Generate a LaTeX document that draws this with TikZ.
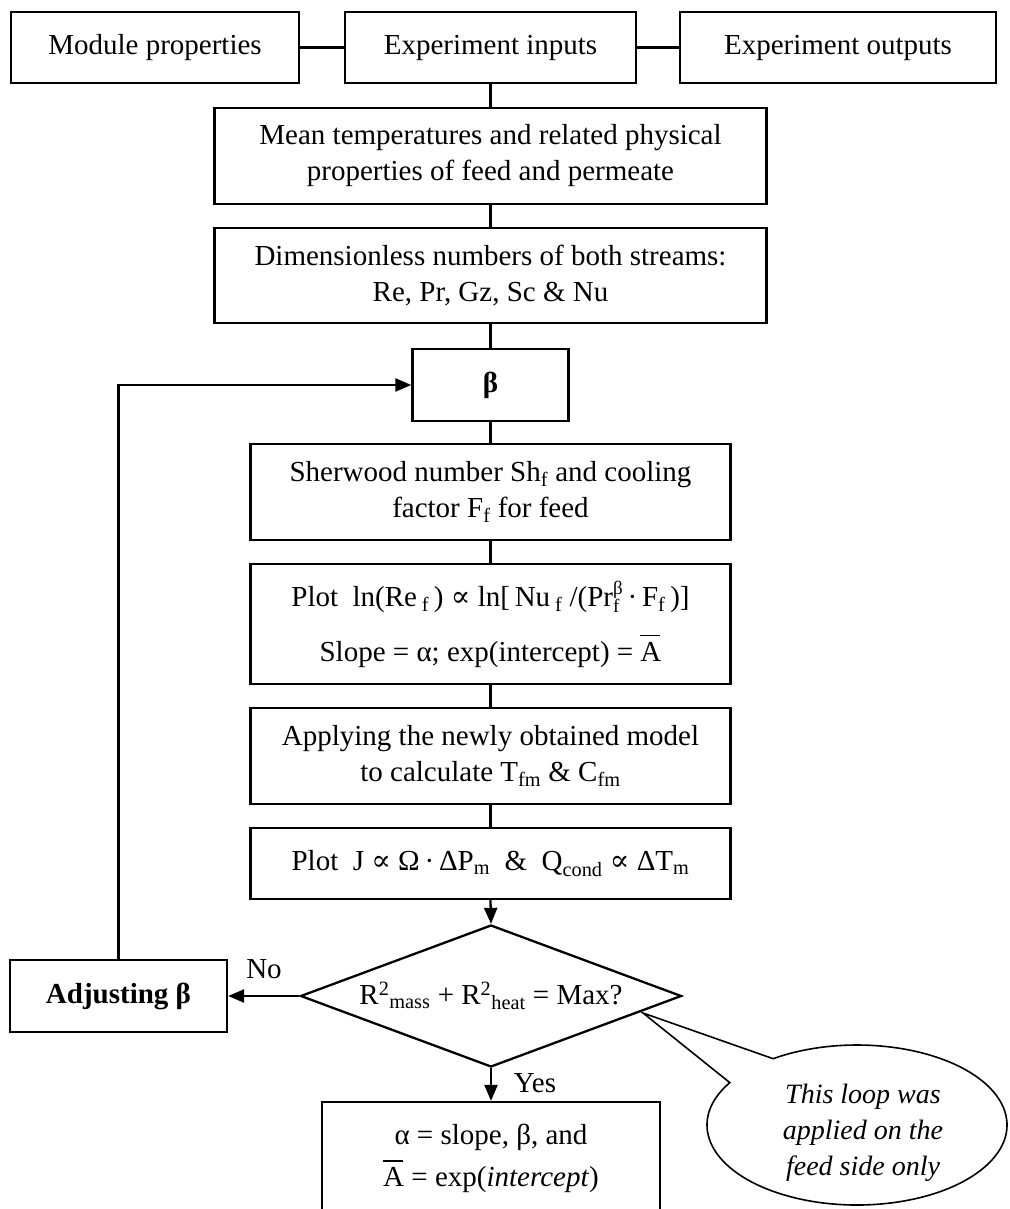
\documentclass[tikz,border=0pt]{standalone}
\usepackage{fontspec}
\setmainfont{Liberation Serif}
\newfontfamily\djv{DejaVu Serif}
\usetikzlibrary{shapes.geometric,arrows.meta,calc}
\newcommand{\propsym}{{\djv ∝}}
\newcommand{\abarsym}{\makebox[0pt][l]{\raisebox{25pt}{\rule{20pt}{1.4pt}}}A}
\newcommand{\smallidx}[1]{{\fontsize{19}{19}\selectfont #1}}
\newcommand{\stacksb}[2]{\makebox[0pt][l]{\raisebox{-6pt}{\smallidx{#2}}}\raisebox{12pt}{\smallidx{#1}}}
\begin{document}
\begin{tikzpicture}[x=1pt,y=-1pt,
  every node/.style={font=\fontsize{29}{36}\selectfont},
  box/.style={draw, line width=2.3pt, align=center, inner sep=0pt},
  conn/.style={line width=2.3pt},
  arr/.style={line width=2.3pt, -{Triangle[length=16pt,width=13pt]}},
  thinline/.style={line width=1.6pt}]
\useasboundingbox (0,0) rectangle (1009,1209);
\clip (0,0) rectangle (1009,1209);
\fill[white] (0,0) rectangle (1009,1209);

% top row
\node[box, minimum width=288pt, minimum height=71pt] (mod) at (155,47.5) {\raisebox{4pt}{Module properties}};
\node[box, minimum width=291pt, minimum height=71pt] (inp) at (490.5,47.5) {\raisebox{4pt}{Experiment inputs}};
\node[box, minimum width=316pt, minimum height=71pt] (out) at (838,47.5) {\raisebox{4pt}{Experiment outputs}};

% main column
\node[box, minimum width=552pt, minimum height=96pt] (mean) at (490.5,156) {Mean temperatures and related physical\\properties of feed and permeate};
\node[box, minimum width=552pt, minimum height=95pt] (dim) at (490.5,275.5) {Dimensionless numbers of both streams:\\Re, Pr, Gz, Sc \& Nu};
\node[box, minimum width=156pt, minimum height=72pt] (beta) at (490.5,385) {\textbf{β}};
\node[box, minimum width=480pt, minimum height=96pt] (sher) at (490.5,492) {Sherwood number Sh\textsubscript{f} and cooling\\factor F\textsubscript{f} for feed};
\node[box, minimum width=480pt, minimum height=120pt] (plota) at (490.5,624) {Plot~~ln(Re\,\textsubscript{f}\,) \propsym\ ln[\,Nu\,\textsubscript{f} /(Pr\stacksb{β}{f}\,·\,F\textsubscript{f}\,)]\\[19pt]Slope = α; exp(intercept) = \abarsym};
\node[box, minimum width=480pt, minimum height=96pt] (appl) at (490.5,756) {Applying the newly obtained model\\to calculate T\textsubscript{fm} \& C\textsubscript{fm}};
\node[box, minimum width=480pt, minimum height=71pt] (plotj) at (490.5,863.5) {Plot~~J \propsym\ Ω\,·\,ΔP\textsubscript{m}~~\&~~Q\textsubscript{cond} \propsym\ ΔT\textsubscript{m}};
\node[draw, diamond, aspect=2.68, line width=2.3pt, inner sep=0pt, minimum width=381pt, minimum height=142pt] (dia) at (491,996) {R\textsuperscript{2}\textsubscript{mass} + R\textsuperscript{2}\textsubscript{heat} = Max?};
\node[box, minimum width=217pt, minimum height=72pt] (adj) at (118.5,996) {\textbf{Adjusting β}};
\node[box, minimum width=338pt, minimum height=113pt] (res) at (491,1158.5) {α = slope, β, and\\[6pt]\abarsym\ = exp(\textit{intercept})};

% labels
\node (lblno) at (264,969) {No};
\node (lblyes) at (535,1083) {Yes};

% connectors
\draw[conn] (mod.east) -- (inp.west);
\draw[conn] (inp.east) -- (out.west);
\draw[conn] (inp.south) -- (mean.north);
\draw[conn] (mean.south) -- (dim.north);
\draw[conn] (dim.south) -- (beta.north);
\draw[conn] (beta.south) -- (sher.north);
\draw[conn] (sher.south) -- (plota.north);
\draw[conn] (plota.south) -- (appl.north);
\draw[conn] (appl.south) -- (plotj.north);
\draw[arr] (plotj.south) -- (dia.north);
\draw[arr] (dia.west) -- (adj.east);
\draw[arr] (dia.south) -- (res.north);
\draw[arr] (adj.north) |- (beta.west);

% callout
\coordinate (tip) at (643,1013);
\coordinate (cc) at (857,1125);
\draw[thinline] (tip) -- ([shift={(148:150pt and 80pt)}]cc) arc[start angle=148, end angle=484, x radius=150pt, y radius=80pt] -- cycle;
\node[font=\fontsize{28}{36}\selectfont\itshape, align=center] (note) at (863,1133) {This loop was\\applied on the\\feed side only};
\end{tikzpicture}
\end{document}
